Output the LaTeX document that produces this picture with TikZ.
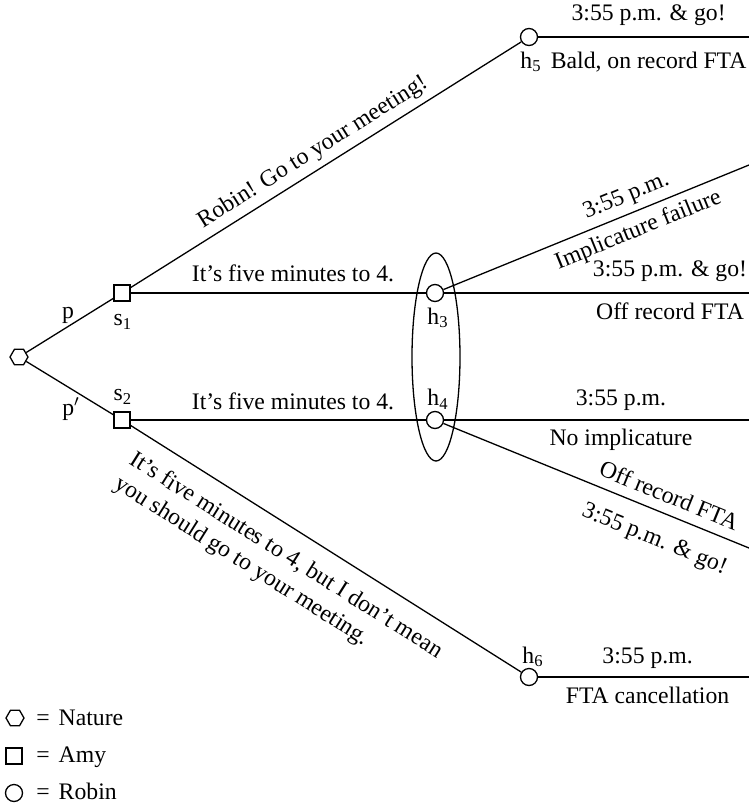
\documentclass[tikz,border=0pt]{standalone}
\usepackage{fontspec}
\setmainfont{Liberation Serif}
\usetikzlibrary{shapes.geometric}
\newcommand\treefont{\fontsize{11.85pt}{14.2pt}\selectfont}
\begin{document}
\begin{tikzpicture}[x=0.5pt, y=-0.5pt,
  every node/.append style={font=\treefont},
  move/.style={line width=0.65pt},
  payoff/.style={line width=1.1pt},
  nature/.style={draw, line width=0.65pt, regular polygon, regular polygon sides=6,
    minimum size=9pt, inner sep=0pt, fill=white},
  amy/.style={draw, line width=0.65pt, rectangle, minimum size=8pt, inner sep=0pt, fill=white},
  robin/.style={draw, line width=0.65pt, circle, minimum size=8.5pt, inner sep=0pt, fill=white},
  infoset/.style={draw, line width=0.65pt, ellipse, minimum width=24pt, minimum height=104pt, inner sep=0pt},
  lab above/.style={anchor=south, text depth=0pt, inner xsep=0pt, inner ysep=#1},
  lab below/.style={anchor=north, text height=8pt, inner xsep=0pt, inner ysep=#1},
  tag/.style={inner sep=0pt},
]
\useasboundingbox (0,0) rectangle (749,804);

% decision nodes
\node[infoset] (info) at (436,357) {};
\node[nature] (n)  at (19,357) {};
\node[amy]    (s1) at (122,293) {};
\node[amy]    (s2) at (122,420) {};
\node[robin]  (h3) at (435,293) {};
\node[robin]  (h4) at (435,420) {};
\node[robin]  (h5) at (529,37) {};
\node[robin]  (h6) at (529,677) {};

% free ends of the outcome lines
\coordinate (u3) at (749,165);
\coordinate (d4) at (749,548);
\coordinate (p3) at (548,293);
\coordinate (e3) at (749,293);
\coordinate (p4) at (548,420);
\coordinate (e4) at (749,420);
\coordinate (e5) at (749,37);
\coordinate (e6) at (749,677);

% node labels
\node[tag] (pl)  at (68,315)  {p};
\node[tag] (pl2) at (71,409)  {p$'$};
\node[tag] (s1l) at (123,322) {s\textsubscript{1}};
\node[tag] (s2l) at (123,397) {s\textsubscript{2}};
\node[tag] (h3l) at (438,318) {h\textsubscript{3}};
\node[tag] (h4l) at (438,399) {h\textsubscript{4}};
\node[tag] (h5l) at (531,62)  {h\textsubscript{5}};
\node[tag] (h6l) at (533,657) {h\textsubscript{6}};

% moves
\draw[move] (n) -- (s1);
\draw[move] (n) -- (s2);
\draw[move] (s1) -- node[pos=0.49, sloped, lab above=5.5pt] {Robin! Go to your meeting!} (h5);
\draw[move] (s1) -- node[pos=0.55, lab above=5.5pt] {It’s five minutes to 4.} (h3);
\draw[move] (s2) -- node[pos=0.55, lab above=5pt] {It’s five minutes to 4.} (h4);
\draw[move] (s2) -- node[pos=0.435, sloped, anchor=north, inner xsep=0pt, inner ysep=8pt, align=left]
  {It’s five minutes to 4, but I don’t mean\\you should go to your meeting.} (h6);

% outcomes after h3
\draw[move] (h3) -- node[pos=0.62, sloped, lab above=5.5pt] {3:55 p.m.}
                    node[pos=0.615, sloped, lab below=4pt] {Implicature failure} (u3);
\draw[move] (h3) -- (p3);
\draw[payoff] (p3) -- node[pos=0.607, lab above=7.5pt] {3:55 p.m. \& go!}
                      node[pos=0.607, lab below=4.5pt] {Off record FTA} (e3);

% outcomes after h4
\draw[move] (h4) -- (p4);
\draw[payoff] (p4) -- node[pos=0.363, lab above=6.5pt] {3:55 p.m.}
                      node[pos=0.363, lab below=4pt] {No implicature} (e4);
\draw[move] (h4) -- node[pos=0.716, sloped, lab above=5pt] {Off record FTA}
                    node[pos=0.725, sloped, lab below=8.5pt] {3:55 p.m. \& go!} (d4);

% outcome after h5
\draw[payoff] (h5) -- node[pos=0.524, lab above=7.5pt] {3:55 p.m. \& go!}
                      node[pos=0.524, lab below=7pt] {Bald, on record FTA} (e5);

% outcome after h6
\draw[payoff] (h6) -- node[pos=0.519, lab above=6pt] {3:55 p.m.}
                      node[pos=0.519, lab below=4.5pt] {FTA cancellation} (e6);

% legend
\node[nature] (kn) at (15,718) {};
\node[amy]    (ka) at (14,756) {};
\node[robin]  (kr) at (14,793) {};
\node[tag, anchor=base west] (knt) at (36,725) {=\hspace{4.5pt}Nature};
\node[tag, anchor=base west] (kat) at (36,762) {=\hspace{4.5pt}Amy};
\node[tag, anchor=base west] (krt) at (36,799) {=\hspace{4.5pt}Robin};
\end{tikzpicture}
\end{document}
